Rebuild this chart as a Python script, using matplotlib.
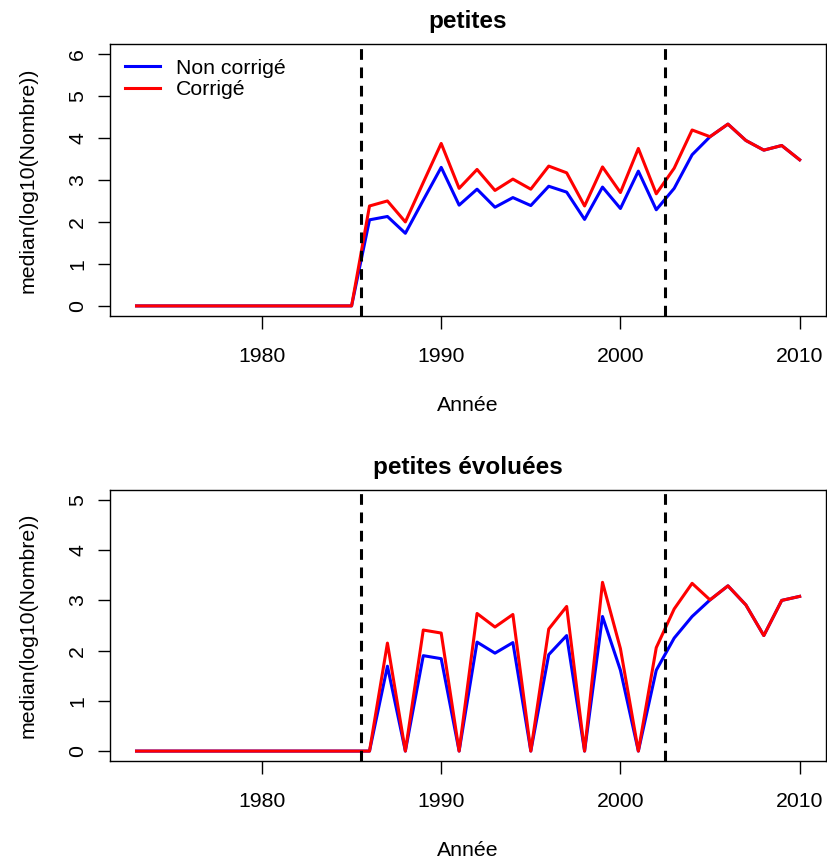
import numpy as np
import matplotlib.pyplot as plt

plt.rcParams['font.family'] = ['Liberation Sans', 'DejaVu Sans']

annees = np.arange(1973, 2011)

# petites
petites_non_corr = [0]*13 + [2.05, 2.13, 1.73, 2.52, 3.30, 2.40, 2.78, 2.35, 2.58, 2.39,
                             2.85, 2.71, 2.06, 2.83, 2.32, 3.21, 2.29, 2.80, 3.60, 4.03,
                             4.33, 3.94, 3.71, 3.82, 3.48]
petites_corr = [0]*13 + [2.38, 2.50, 2.00, 2.94, 3.87, 2.80, 3.25, 2.75, 3.02, 2.78,
                         3.33, 3.17, 2.38, 3.31, 2.70, 3.75, 2.67, 3.28, 4.19, 4.03,
                         4.33, 3.94, 3.71, 3.82, 3.48]

# petites évoluées
evoluees_non_corr = [0]*14 + [1.69, 0, 1.90, 1.84, 0, 2.17, 1.95, 2.16, 0, 1.92,
                              2.30, 0, 2.68, 1.61, 0, 1.61, 2.25, 2.68, 3.01,
                              3.29, 2.91, 2.30, 3.00, 3.08]
evoluees_corr = [0]*14 + [2.15, 0, 2.41, 2.35, 0, 2.74, 2.47, 2.72, 0, 2.43,
                          2.88, 0, 3.36, 2.04, 0, 2.06, 2.83, 3.34, 3.01,
                          3.29, 2.91, 2.30, 3.00, 3.08]

coupures = [1985.5, 2002.5]

panneaux = [
    ("petites", petites_non_corr, petites_corr, 6, [0.133, 0.633, 0.866, 0.316]),
    ("petites évoluées", evoluees_non_corr, evoluees_corr, 5, [0.133, 0.116, 0.866, 0.315]),
]

fig = plt.figure(figsize=(8.27, 8.61), dpi=100)

for i, (titre, non_corr, corr, ymax, pos) in enumerate(panneaux):
    ax = fig.add_axes(pos)
    ax.plot(annees, non_corr, color='blue', lw=2.2, label='Non corrigé')
    ax.plot(annees, corr, color='red', lw=2.2, label='Corrigé')
    for c in coupures:
        ax.axvline(c, color='black', lw=2.2, ls=(0, (3.5, 2.5)))
    ax.set_xlim(1971.52, 2011.48)
    ax.set_ylim(-0.04*ymax, 1.04*ymax)
    ax.set_xticks([1980, 1990, 2000, 2010])
    ax.set_yticks(range(0, ymax + 1))
    ax.tick_params(axis='both', labelsize=15.3, length=9, width=1)
    ax.tick_params(axis='x', pad=13.5)
    ax.tick_params(axis='y', pad=7.5)
    for lbl in ax.get_yticklabels():
        lbl.set_rotation(90)
        lbl.set_va('center')
    for s in ax.spines.values():
        s.set_linewidth(1)
    ax.set_title(titre, fontsize=17.5, fontweight='bold', pad=11.5)
    ax.set_xlabel('Année', fontsize=15.3, labelpad=21.5)
    ax.set_ylabel('median(log10(Nombre))', fontsize=15.3, labelpad=22)
    if i == 0:
        ax.legend(loc='upper left', frameon=False, fontsize=15.3, handlelength=1.65,
                  handletextpad=0.75, labelspacing=0.12, borderpad=0.35,
                  borderaxespad=0.35)

fig.savefig('out.png', dpi=100)
